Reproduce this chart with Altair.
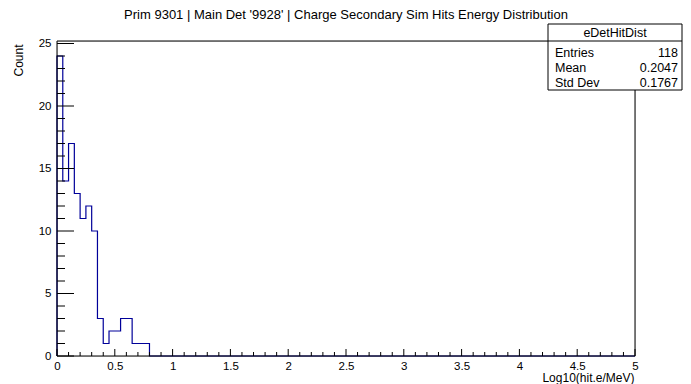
import altair as alt
import pandas as pd

# ---- data ----
bin_edges = [0.0, 0.05, 0.10, 0.15, 0.20, 0.25, 0.30, 0.35, 0.40, 0.45,
             0.50, 0.55, 0.60, 0.65, 0.70, 0.75, 0.80]
counts = [24, 14, 17, 13, 11, 12, 10, 3, 1, 2, 2, 3, 3, 1, 1, 1]
x_range = [0, 5]
y_range = [0, 25.2]

x_major = [0, 0.5, 1, 1.5, 2, 2.5, 3, 3.5, 4, 4.5, 5]
x_minor = [round(i * 0.1, 1) for i in range(51) if i % 5 != 0]
y_major = [0, 5, 10, 15, 20, 25]
y_minor = [i for i in range(1, 26) if i % 5 != 0]

title_text = "Prim 9301 | Main Det '9928' | Charge Secondary Sim Hits Energy Distribution"
x_title = "Log10(hit.e/MeV)"
y_title = "Count"
stats_name = "eDetHitDist"
stats_labels = ["Entries", "Mean", "Std Dev"]
stats_values = ["118", "0.2047", "0.1767"]

W, H = 578, 315
FONT = "Liberation Sans"
LINE = "#000099"

# step outline points
xs = [bin_edges[0]] + bin_edges[:-1] + [bin_edges[-1], x_range[1]]
ys = [0] + counts + [0, 0]
hist = pd.DataFrame({"x": xs, "y": ys, "i": list(range(len(xs)))})

xscale = alt.Scale(domain=x_range, nice=False, zero=False)
yscale = alt.Scale(domain=y_range, nice=False, zero=False)

x_axis = alt.Axis(values=x_major, format="~g", ticks=False, domain=False,
                  grid=False, labelPadding=4, labelFlush=False,
                  labelOverlap=False, labelFont=FONT, labelFontSize=11.5,
                  labelColor="black",
                  title=x_title, titleFont=FONT, titleFontSize=12,
                  titleFontWeight="normal", titleColor="black",
                  titleX=W - 1, titleY=25, titleAlign="right",
                  titleBaseline="alphabetic")
y_axis = alt.Axis(values=y_major, ticks=False, domain=False, grid=False,
                  labelPadding=6, labelFlush=False, labelOverlap=False,
                  labelFont=FONT, labelFontSize=11.5, labelColor="black",
                  title=y_title, titleFont=FONT, titleFontSize=12,
                  titleFontWeight="normal", titleColor="black",
                  titleAngle=270, titleX=-39, titleY=3, titleAlign="right",
                  titleBaseline="middle")

line = alt.Chart(hist).mark_line(interpolate="step-after", color=LINE,
                                 strokeWidth=1.2).encode(
    x=alt.X("x:Q", scale=xscale, axis=x_axis),
    y=alt.Y("y:Q", scale=yscale, axis=y_axis),
    order="i:Q",
)

def xticks(vals, length):
    return alt.Chart(pd.DataFrame({"x": vals})).mark_rule(
        color="black", strokeWidth=1).encode(
        x=alt.X("x:Q", scale=xscale, axis=x_axis),
        y=alt.value(H), y2=alt.value(H - length))

def yticks(vals, length):
    return alt.Chart(pd.DataFrame({"y": vals})).mark_rule(
        color="black", strokeWidth=1).encode(
        y=alt.Y("y:Q", scale=yscale, axis=y_axis),
        x=alt.value(0), x2=alt.value(length))

one = pd.DataFrame({"a": [0]})

# plot frame
frame = alt.Chart(one).mark_rect(fill=None, stroke="black",
                                 strokeWidth=1).encode(
    x=alt.value(0), x2=alt.value(W), y=alt.value(0), y2=alt.value(H))

# title
title = alt.Chart(one).mark_text(font=FONT, fontSize=13, color="black",
                                 align="center", baseline="middle").encode(
    x=alt.value(W / 2), y=alt.value(-26), text=alt.value(title_text))

# stats box
bx0, bx1, by0, by1, bsep = 491, 625, -17, 49, 0
box = alt.Chart(one).mark_rect(fill="white", stroke="black",
                               strokeWidth=1).encode(
    x=alt.value(bx0), x2=alt.value(bx1), y=alt.value(by0), y2=alt.value(by1))
sep = alt.Chart(one).mark_rule(color="black", strokeWidth=1).encode(
    x=alt.value(bx0), x2=alt.value(bx1), y=alt.value(bsep))
box_title = alt.Chart(one).mark_text(font=FONT, fontSize=12.5, color="black",
                                     align="center", baseline="middle").encode(
    x=alt.value((bx0 + bx1) / 2), y=alt.value(-8),
    text=alt.value(stats_name))

row_y = [12, 27, 42]
stat_layers = []
for lab, val, yy in zip(stats_labels, stats_values, row_y):
    stat_layers.append(alt.Chart(one).mark_text(
        font=FONT, fontSize=12.5, color="black", align="left",
        baseline="middle").encode(x=alt.value(bx0 + 7), y=alt.value(yy),
                                  text=alt.value(lab)))
    stat_layers.append(alt.Chart(one).mark_text(
        font=FONT, fontSize=12.5, color="black", align="right",
        baseline="middle").encode(x=alt.value(bx1 - 4), y=alt.value(yy),
                                  text=alt.value(val)))

chart = alt.layer(
    line,
    xticks(x_major, 7), xticks(x_minor, 4),
    yticks(y_major, 17), yticks(y_minor, 8),
    frame, title, box, sep, box_title, *stat_layers,
).properties(
    width=W, height=H,
    autosize=alt.AutoSizeParams(type="none"),
    padding={"left": 49, "top": 33, "right": 48, "bottom": 28},
).configure_view(stroke=None).configure(background="white")

chart.save("out.html", embed_options={"renderer": "svg", "actions": False})
